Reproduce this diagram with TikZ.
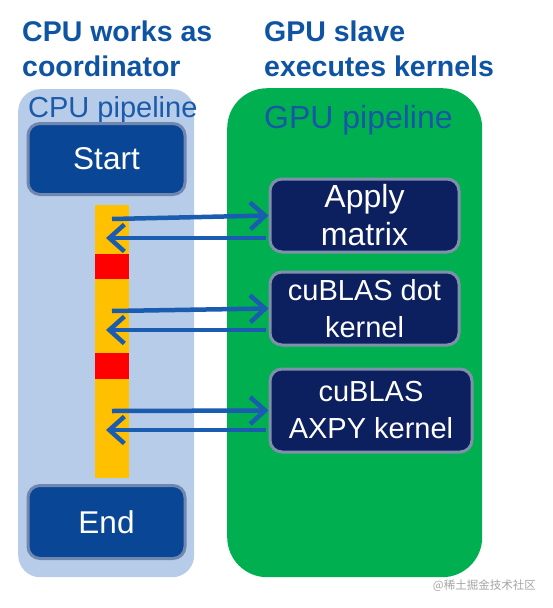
\documentclass[tikz,border=0pt]{standalone}
\usepackage{fontspec}
\setmainfont{Liberation Sans}
\newfontfamily\cjk{Noto Sans CJK SC}
\usetikzlibrary{arrows.meta}
\definecolor{titleblue}{RGB}{14,84,163}
\definecolor{pipeblue}{RGB}{28,90,170}
\definecolor{gpupipe}{RGB}{22,88,165}
\definecolor{cpubg}{RGB}{182,204,232}
\definecolor{gpubg}{RGB}{0,176,80}
\definecolor{startblue}{RGB}{10,70,150}
\definecolor{startborder}{RGB}{112,136,176}
\definecolor{navy}{RGB}{12,32,96}
\definecolor{navyborder}{RGB}{128,144,172}
\definecolor{arrowblue}{RGB}{26,92,176}
\definecolor{barorange}{RGB}{255,192,0}
\definecolor{barred}{RGB}{255,0,0}
\definecolor{wmgray}{RGB}{165,165,165}
\begin{document}
\begin{tikzpicture}[x=1pt,y=-1pt,
  title/.style={text=titleblue, font=\fontsize{28.5}{35}\selectfont\bfseries, inner sep=0pt, anchor=base west},
  pipe/.style={font=\fontsize{29}{35}\selectfont, inner sep=0pt, anchor=base west},
  cpuproc/.style={draw=startborder, line width=3pt, fill=startblue, rounded corners=12pt, text=white,
     font=\fontsize{31.5}{37}\selectfont, minimum width=157pt, inner sep=0pt},
  kernel/.style={draw=navyborder, line width=3pt, fill=navy, rounded corners=12pt, text=white,
     font=\fontsize{29}{37}\selectfont, align=center, inner sep=0pt},
  arr/.style={draw=arrowblue, line width=4.5pt, -{Straight Barb[length=15pt,width=27pt]}},
  seg/.style={inner sep=0pt, anchor=north west}
]
\useasboundingbox (0,0) rectangle (552,608);
\fill[white] (0,0) rectangle (552,608);

% titles
\node[title] (t1a) at (22,41) {CPU works as};
\node[title] (t1b) at (22,76) {coordinator};
\node[title] (t2a) at (264,41) {GPU slave};
\node[title] (t2b) at (264,76) {executes kernels};

% pipelines
\node[fill=cpubg, rounded corners=22pt, minimum width=176pt, minimum height=488pt, inner sep=0pt, anchor=north west] (cpu) at (18,89) {};
\node[fill=gpubg, rounded corners=40pt, minimum width=255pt, minimum height=489pt, inner sep=0pt, anchor=north west] (gpu) at (227,88) {};
\node[pipe, text=pipeblue] (cpulabel) at (28,117) {CPU pipeline};
\node[pipe, text=gpupipe, font=\fontsize{32}{35}\selectfont] (gpulabel) at (264,128) {GPU pipeline};

% CPU boxes
\node[cpuproc, minimum height=71pt] (start) at (106.5,159) {Start};
\node[cpuproc, minimum height=73pt] (end) at (106.5,522) {End};

% bar
\node[seg, fill=barorange, minimum width=34pt, minimum height=273pt] (bar) at (95,205) {};
\node[seg, fill=barred, minimum width=34pt, minimum height=25pt] (red1) at (95,254) {};
\node[seg, fill=barred, minimum width=34pt, minimum height=26pt] (red2) at (95,353) {};

% kernels
\node[kernel, minimum width=189pt, minimum height=73pt, font=\fontsize{32}{38}\selectfont] (k1) at (364.5,215.5) {Apply\\matrix};
\node[kernel, minimum width=189pt, minimum height=73pt] (k2) at (364.5,308.5) {cuBLAS dot\\kernel};
\node[kernel, minimum width=202pt, minimum height=83pt] (k3) at (371,410.5) {cuBLAS\\AXPY kernel};

% arrows
\coordinate (s1) at (112,219);
\coordinate (e1) at (106,238);
\coordinate (s2) at (112,311);
\coordinate (e2) at (106,330);
\coordinate (s3) at (112,411);
\coordinate (e3) at (106,430);
\draw[arr] (s1) -- (k1.west);
\draw[arr] ([xshift=-3pt,yshift=-22.5pt]k1.west) -- (e1);
\draw[arr] (s2) -- (k2.west);
\draw[arr] ([xshift=-3pt,yshift=-21.5pt]k2.west) -- (e2);
\draw[arr] (s3) -- (k3.west);
\draw[arr] ([xshift=-3pt,yshift=-19.5pt]k3.west) -- (e3);

% watermark
\node[text=wmgray, font=\cjk\fontsize{11.5}{12}\selectfont, inner sep=0pt, anchor=east] (wm) at (536,586) {@稀土掘金技术社区};
\end{tikzpicture}
\end{document}
